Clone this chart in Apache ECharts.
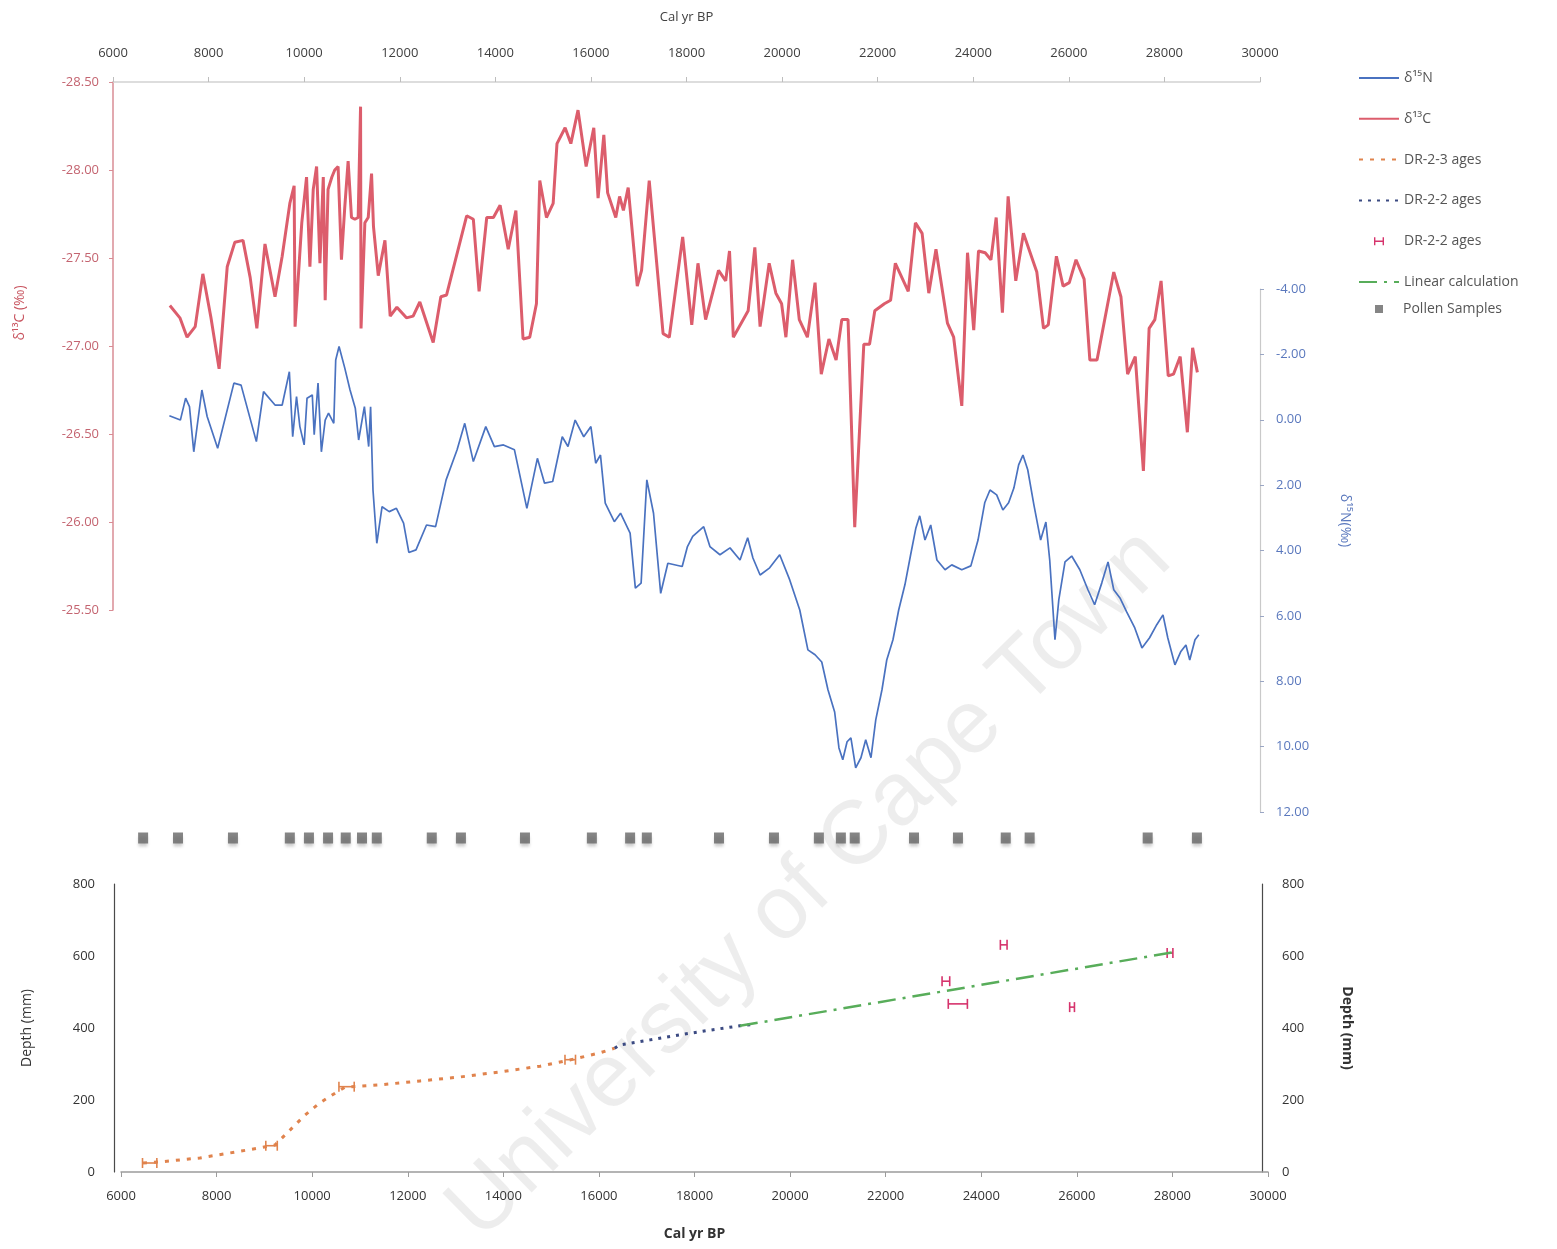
<!DOCTYPE html>
<html>
<head>
<meta charset="utf-8">
<script src="https://cdn.jsdelivr.net/npm/echarts@6/dist/echarts.min.js"></script>
<style>
  html, body { margin: 0; padding: 0; background: #ffffff; }
  #chart { width: 1557px; height: 1249px; }
</style>
</head>
<body>
<div id="chart"></div>
<script>
// Stable isotope record against calibrated age (years BP)
const d13C = [
  [7190,-27.23],[7400,-27.16],[7550,-27.05],[7720,-27.11],[7880,-27.41],[8050,-27.16],[8220,-26.87],
  [8390,-27.45],[8550,-27.59],[8720,-27.60],[8870,-27.39],[9010,-27.10],[9180,-27.58],[9390,-27.28],
  [9540,-27.51],[9700,-27.81],[9790,-27.91],[9810,-27.11],[9950,-27.70],[10050,-27.96],[10120,-27.45],
  [10190,-27.89],[10260,-28.02],[10330,-27.47],[10400,-27.96],[10440,-27.26],[10500,-27.89],[10580,-27.96],
  [10640,-28.00],[10710,-28.02],[10780,-27.49],[10850,-27.79],[10920,-28.05],[10990,-27.73],[11060,-27.72],
  [11130,-27.73],[11180,-28.36],[11190,-27.10],[11270,-27.70],[11340,-27.73],[11410,-27.98],[11450,-27.68],
  [11550,-27.40],[11690,-27.60],[11800,-27.17],[11940,-27.22],[12140,-27.16],[12280,-27.17],[12420,-27.25],
  [12700,-27.02],[12860,-27.28],[12980,-27.29],[13400,-27.74],[13540,-27.72],[13660,-27.31],[13820,-27.73],
  [13960,-27.73],[14100,-27.80],[14270,-27.55],[14430,-27.77],[14580,-27.04],[14720,-27.05],[14860,-27.24],
  [14930,-27.94],[15070,-27.73],[15210,-27.81],[15290,-28.15],[15460,-28.24],[15580,-28.15],[15730,-28.34],
  [15900,-28.02],[16060,-28.24],[16150,-27.84],[16270,-28.20],[16350,-27.87],[16520,-27.73],[16600,-27.85],
  [16680,-27.77],[16780,-27.90],[16970,-27.34],[17060,-27.43],[17220,-27.94],[17510,-27.07],[17640,-27.05],
  [17920,-27.62],[18110,-27.12],[18240,-27.47],[18400,-27.15],[18670,-27.43],[18820,-27.37],[18900,-27.54],
  [18980,-27.05],[19290,-27.20],[19430,-27.56],[19540,-27.11],[19730,-27.47],[19870,-27.30],[19990,-27.24],
  [20080,-27.05],[20220,-27.49],[20360,-27.15],[20530,-27.05],[20690,-27.36],[20820,-26.84],[20980,-27.04],
  [21130,-26.92],[21250,-27.15],[21380,-27.15],[21520,-25.97],[21710,-27.01],[21830,-27.01],[21940,-27.20],
  [22140,-27.24],[22270,-27.26],[22370,-27.47],[22640,-27.31],[22790,-27.70],[22930,-27.64],[23070,-27.30],
  [23220,-27.55],[23460,-27.13],[23590,-27.05],[23760,-26.66],[23880,-27.53],[24010,-27.09],[24110,-27.54],
  [24250,-27.53],[24370,-27.49],[24480,-27.73],[24610,-27.19],[24730,-27.85],[24890,-27.37],[25050,-27.64],
  [25330,-27.42],[25470,-27.10],[25570,-27.12],[25740,-27.51],[25880,-27.34],[26010,-27.36],[26150,-27.49],
  [26320,-27.38],[26440,-26.92],[26590,-26.92],[26940,-27.42],[27090,-27.28],[27230,-26.84],[27390,-26.94],
  [27560,-26.29],[27680,-27.10],[27800,-27.15],[27930,-27.37],[28080,-26.83],[28190,-26.84],[28330,-26.94],
  [28480,-26.51],[28590,-26.99],[28690,-26.85]
];

const d15N = [
  [7180,-0.12],[7410,0.01],[7520,-0.66],[7600,-0.40],[7690,0.98],[7860,-0.91],[7970,-0.10],[8190,0.87],
  [8530,-1.12],[8680,-1.06],[9000,0.67],[9150,-0.86],[9390,-0.45],[9540,-0.45],[9690,-1.47],[9760,0.52],
  [9840,-0.71],[9910,0.21],[10000,0.77],[10060,-0.66],[10170,-0.76],[10210,0.46],[10290,-1.12],[10360,0.98],
  [10440,0.01],[10510,-0.20],[10620,0.11],[10660,-1.83],[10730,-2.24],[10850,-1.58],[10960,-0.91],[11070,-0.35],
  [11140,0.62],[11260,-0.40],[11350,0.82],[11390,-0.40],[11440,2.15],[11520,3.78],[11630,2.66],[11780,2.81],
  [11930,2.71],[12080,3.16],[12190,4.06],[12340,3.98],[12560,3.22],[12750,3.27],[12970,1.84],[13200,0.92],
  [13360,0.11],[13540,1.28],[13800,0.21],[13980,0.82],[14170,0.77],[14400,0.92],[14660,2.71],[14880,1.18],
  [15030,1.94],[15200,1.89],[15400,0.52],[15520,0.82],[15670,0.01],[15850,0.52],[16000,0.21],[16100,1.33],
  [16200,1.08],[16300,2.55],[16490,3.12],[16620,2.86],[16820,3.47],[16930,5.15],[17050,5.00],[17170,1.84],
  [17310,2.86],[17460,5.31],[17610,4.39],[17910,4.49],[18020,3.88],[18130,3.57],[18360,3.27],[18490,3.88],
  [18700,4.13],[18910,3.92],[19120,4.29],[19280,3.61],[19390,4.23],[19540,4.75],[19740,4.53],[19950,4.13],
  [20160,4.90],[20370,5.82],[20540,7.04],[20690,7.19],[20830,7.41],[20960,8.26],[21100,8.94],[21190,10.04],
  [21270,10.40],[21360,9.85],[21440,9.73],[21540,10.65],[21650,10.34],[21750,9.79],[21860,10.34],[21960,9.18],
  [22090,8.26],[22190,7.35],[22320,6.73],[22440,5.82],[22570,5.05],[22690,4.13],[22800,3.31],[22880,2.94],
  [22990,3.68],[23110,3.22],[23240,4.29],[23410,4.59],[23550,4.44],[23760,4.59],[23950,4.47],[24100,3.68],
  [24240,2.54],[24350,2.15],[24490,2.30],[24620,2.76],[24740,2.54],[24850,2.09],[24950,1.38],[25040,1.08],
  [25140,1.53],[25270,2.61],[25410,3.68],[25520,3.13],[25600,4.29],[25710,6.73],[25790,5.51],[25920,4.35],
  [26060,4.17],[26230,4.59],[26400,5.20],[26540,5.66],[26690,4.99],[26820,4.35],[26940,5.20],[27070,5.45],
  [27210,5.88],[27380,6.37],[27530,6.98],[27690,6.67],[27840,6.27],[27970,5.97],[28070,6.67],[28220,7.50],
  [28340,7.10],[28450,6.89],[28530,7.35],[28640,6.73],[28720,6.58]
];

// Ages of the pollen samples (years BP)
const pollenYears = [6630,7360,8510,9700,10100,10500,10870,11210,11520,12670,13280,14620,16020,
  16820,17170,18680,19830,20770,21230,21520,22760,23680,24680,25180,27650,28680];

// Age-depth model: [age BP, depth mm]
const agesDR23 = [
  [6460,25],[6820,28],[7650,39],[8280,53],[8910,67],[9220,75],[9540,117],[9850,158],[10160,192],
  [10480,219],[10690,236],[11420,242],[12260,253],[13100,264],[13930,278],[14770,294],[15390,311],
  [16020,331],[16330,344]
];
// [age BP, depth mm, age error]
const agesDR23Err = [[6600,25,150],[9150,73,120],[10720,237,160],[15400,312,110]];
const agesDR22 = [[16330,344],[16440,353],[17070,367],[17690,381],[18320,394],[18950,406],[19260,410]];
const agesDR22Err = [[23260,530,80],[23510,467,200],[24470,631,70],[25900,458,50],[27950,608,60]];
const linearCalc = [[18950,406],[28000,610]];

// Axis ranges
const ageRange = [6000, 30000, 2000];
const d13CRange = [-28.5, -25.5, 0.5];
const d15NRange = [-4, 12, 2];
const depthRange = [0, 800, 200];

const COL = {
  n: '#4a72c0',
  c: '#dc5d6c',
  dr23: '#e0834d',
  dr22: '#3b4a82',
  err: '#d6336c',
  lin: '#58ad5a',
  pollen: '#666666'
};
const FONT = '"Open Sans", "Liberation Sans", sans-serif';
const NONE = 'rgba(0,0,0,0)';
const plain = v => String(v);

// horizontal age error bar with end caps
function errorBar(params, api) {
  const x = api.value(0), y = api.value(1), e = api.value(2);
  const a = api.coord([x - e, y]);
  const b = api.coord([x + e, y]);
  const cap = 5;
  const style = { stroke: api.visual('color'), lineWidth: 1.6, fill: null };
  return {
    type: 'group',
    children: [
      { type: 'line', shape: { x1: a[0], y1: a[1], x2: b[0], y2: b[1] }, style: style },
      { type: 'line', shape: { x1: a[0], y1: a[1] - cap, x2: a[0], y2: a[1] + cap }, style: style },
      { type: 'line', shape: { x1: b[0], y1: b[1] - cap, x2: b[0], y2: b[1] + cap }, style: style }
    ]
  };
}

const legendText = { 'DR-2-2 ages (error)': 'DR-2-2 ages' };
// icons drawn inside a 40x14 box (corner specks fix the box size)
const BOX = 'M0,0h0.01v0.01h-0.01zM40,14h-0.01v-0.01h0.01z';
const errIcon = 'path://' + BOX + 'M15,3h1.4v3.3h7.2v-3.3h1.4v8h-1.4v-3.3h-7.2v3.3h-1.4z';
const squareIcon = 'path://' + BOX + 'M17,3h8v8h-8z';
const lineItem = name => ({ name: name, itemStyle: { color: NONE, borderColor: NONE, borderWidth: 0, opacity: 0 } });

const xBase = {
  type: 'value', min: ageRange[0], max: ageRange[1], interval: ageRange[2],
  splitLine: { show: false }
};
const hiddenX = gi => Object.assign({}, xBase, { gridIndex: gi, show: false });

const option = {
  backgroundColor: '#ffffff',
  animation: false,
  textStyle: { fontFamily: FONT },
  grid: [
    { left: 113, right: 297, top: 82, height: 528 },
    { left: 113, right: 297, top: 289, height: 523 },
    { left: 113, right: 297, top: 826, height: 24 },
    { left: 121, right: 289, top: 884, height: 288 }
  ],
  xAxis: [
    Object.assign({}, xBase, {
      gridIndex: 0, position: 'top',
      name: 'Cal yr BP', nameLocation: 'middle', nameGap: 58,
      nameTextStyle: { color: '#404040', fontSize: 13, fontFamily: FONT },
      axisLine: { show: true, lineStyle: { color: '#d2d2d2', width: 1.5 } },
      axisTick: { show: true, length: 5, lineStyle: { color: '#bdbdbd' } },
      axisLabel: { color: '#404040', fontSize: 13, margin: 22, fontFamily: FONT, formatter: plain }
    }),
    hiddenX(1),
    hiddenX(2),
    Object.assign({}, xBase, {
      gridIndex: 3, position: 'bottom',
      name: 'Cal yr BP', nameLocation: 'middle', nameGap: 55,
      nameTextStyle: { color: '#333333', fontSize: 14, fontWeight: 'bold', fontFamily: FONT },
      axisLine: { show: true, onZero: false, lineStyle: { color: '#9c9c9c', width: 1.5 } },
      axisTick: { show: true, length: 5, lineStyle: { color: '#9c9c9c' } },
      axisLabel: { color: '#333333', fontSize: 13, margin: 18, fontFamily: FONT, formatter: plain }
    })
  ],
  yAxis: [
    {
      type: 'value', gridIndex: 0, position: 'left', inverse: true,
      min: d13CRange[0], max: d13CRange[1], interval: d13CRange[2],
      name: 'δ¹³C (‰)', nameLocation: 'middle', nameGap: 86,
      nameTextStyle: { color: '#c8545f', fontSize: 14, fontFamily: FONT, padding: [0, 0, 0, 66] },
      axisLine: { show: true, lineStyle: { color: '#d98c94', width: 1.5 } },
      axisTick: { show: true, length: 4, lineStyle: { color: '#d98c94' } },
      axisLabel: { color: '#c46470', fontSize: 13, margin: 14, fontFamily: FONT,
        formatter: v => v.toFixed(2) },
      splitLine: { show: false }
    },
    {
      type: 'value', gridIndex: 1, position: 'right', inverse: true,
      min: d15NRange[0], max: d15NRange[1], interval: d15NRange[2],
      name: 'δ¹⁵N(‰)', nameLocation: 'middle', nameGap: 78, nameRotate: -90,
      nameTextStyle: { color: '#5a78bd', fontSize: 14, fontFamily: FONT, padding: [0, 60, 0, 0] },
      axisLine: { show: true, lineStyle: { color: '#c9c9c9', width: 1.2 } },
      axisTick: { show: true, length: 4, lineStyle: { color: '#9aa6c4' } },
      axisLabel: { color: '#5a78bd', fontSize: 13, margin: 16, fontFamily: FONT,
        formatter: v => v.toFixed(2) },
      splitLine: { show: false }
    },
    { type: 'value', gridIndex: 2, min: 0, max: 1, show: false },
    {
      type: 'value', gridIndex: 3, position: 'left', offset: 7,
      min: depthRange[0], max: depthRange[1], interval: depthRange[2],
      name: 'Depth (mm)', nameLocation: 'middle', nameGap: 80,
      nameTextStyle: { color: '#333333', fontSize: 14, fontFamily: FONT },
      axisLine: { show: true, lineStyle: { color: '#4a4a4a', width: 1.2 } },
      axisTick: { show: false },
      axisLabel: { color: '#333333', fontSize: 13, margin: 19, fontFamily: FONT, formatter: plain },
      splitLine: { show: false }
    },
    {
      type: 'value', gridIndex: 3, position: 'right', offset: -6,
      min: depthRange[0], max: depthRange[1], interval: depthRange[2],
      name: 'Depth (mm)', nameLocation: 'middle', nameGap: 78, nameRotate: -90,
      nameTextStyle: { color: '#333333', fontSize: 14, fontWeight: 'bold', fontFamily: FONT },
      axisLine: { show: true, lineStyle: { color: '#4a4a4a', width: 1.2 } },
      axisTick: { show: false },
      axisLabel: { color: '#333333', fontSize: 13, margin: 20, fontFamily: FONT, formatter: plain },
      splitLine: { show: false }
    }
  ],
  legend: [
    {
      orient: 'vertical', left: 1358, top: 71, padding: 0,
      itemWidth: 40, itemHeight: 14, itemGap: 26.8,
      textStyle: { color: '#555555', fontSize: 14, lineHeight: 14, fontFamily: FONT },
      formatter: name => legendText[name] || name,
      data: [
        lineItem('δ¹⁵N'),
        lineItem('δ¹³C'),
        lineItem('DR-2-3 ages'),
        lineItem('DR-2-2 ages'),
        { name: 'DR-2-2 ages (error)', icon: errIcon, itemStyle: { color: COL.err } },
        lineItem('Linear calculation')
      ]
    },
    {
      orient: 'vertical', left: 1358, top: 302, padding: 0,
      itemWidth: 40, itemHeight: 14,
      textStyle: { color: '#555555', fontSize: 14, lineHeight: 14, fontFamily: FONT },
      data: [{ name: 'Pollen Samples', icon: squareIcon, itemStyle: { color: COL.pollen } }]
    }
  ],
  graphic: [
    {
      type: 'text', z: 0, silent: true,
      x: 810, y: 885, rotation: Math.PI / 4 - 0.01,
      style: {
        text: 'University of Cape Town',
        font: '90px "Liberation Sans", Arial, sans-serif',
        fill: 'rgba(0,0,0,0.07)',
        textAlign: 'center', textVerticalAlign: 'middle'
      }
    }
  ],
  series: [
    {
      name: 'δ¹⁵N', type: 'line', xAxisIndex: 1, yAxisIndex: 1,
      data: d15N, symbol: 'none', z: 3,
      lineStyle: { color: COL.n, width: 1.7 }, itemStyle: { color: NONE }
    },
    {
      name: 'δ¹³C', type: 'line', xAxisIndex: 0, yAxisIndex: 0,
      data: d13C, symbol: 'none', z: 3,
      lineStyle: { color: COL.c, width: 3 }, itemStyle: { color: NONE }
    },
    {
      name: 'DR-2-3 ages', type: 'line', xAxisIndex: 3, yAxisIndex: 3,
      data: agesDR23, symbol: 'none',
      lineStyle: { color: COL.dr23, width: 3, type: [4, 7] }, itemStyle: { color: NONE }
    },
    {
      name: 'DR-2-3 ages', type: 'custom', xAxisIndex: 3, yAxisIndex: 3,
      data: agesDR23Err, renderItem: errorBar, encode: { x: 0, y: 1 },
      itemStyle: { color: COL.dr23 }
    },
    {
      name: 'DR-2-2 ages', type: 'line', xAxisIndex: 3, yAxisIndex: 3,
      data: agesDR22, symbol: 'none',
      lineStyle: { color: COL.dr22, width: 3, type: [3, 6] }, itemStyle: { color: NONE }
    },
    {
      name: 'DR-2-2 ages (error)', type: 'custom', xAxisIndex: 3, yAxisIndex: 3,
      data: agesDR22Err, renderItem: errorBar, encode: { x: 0, y: 1 },
      itemStyle: { color: COL.err }
    },
    {
      name: 'Linear calculation', type: 'line', xAxisIndex: 3, yAxisIndex: 3,
      data: linearCalc, symbol: 'none',
      lineStyle: { color: COL.lin, width: 2.5, type: [18, 7, 3, 7] }, itemStyle: { color: NONE }
    },
    {
      name: 'Pollen Samples', type: 'scatter', xAxisIndex: 2, yAxisIndex: 2,
      data: pollenYears.map(y => [y, 0.5]),
      symbol: 'rect', symbolSize: [10, 11],
      itemStyle: { color: COL.pollen, shadowColor: 'rgba(0,0,0,0.25)', shadowBlur: 3, shadowOffsetY: 3 }
    }
  ]
};

const chart = echarts.init(document.getElementById('chart'), null, { renderer: 'canvas' });
chart.setOption(option);
</script>
</body>
</html>
